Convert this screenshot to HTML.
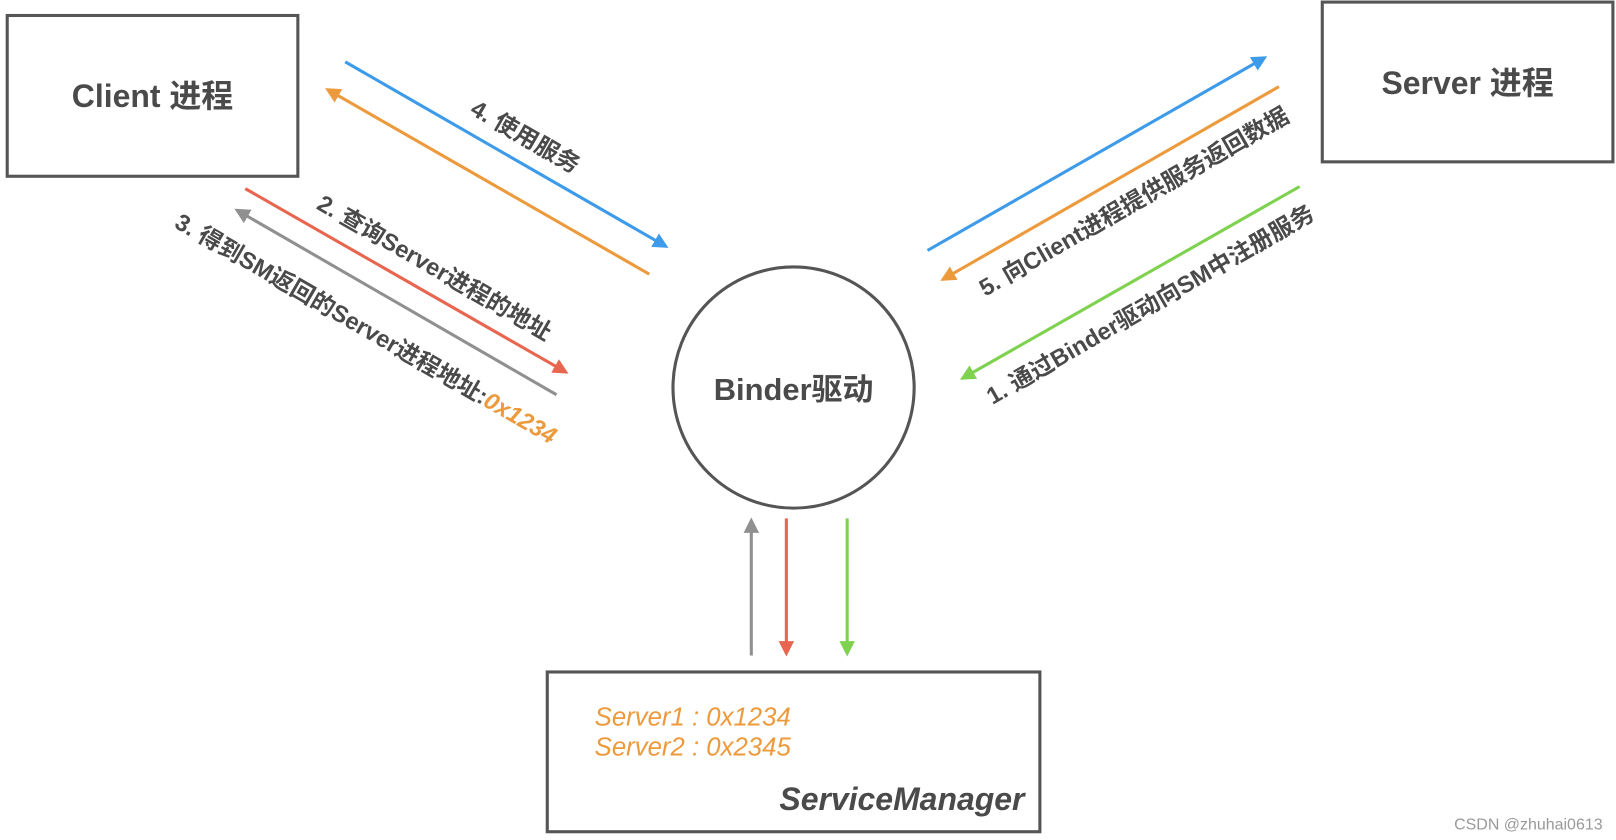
<!DOCTYPE html>
<html><head><meta charset="utf-8"><style>
html,body{margin:0;padding:0;background:#fff;width:1616px;height:840px;overflow:hidden}
text{font-family:"Liberation Sans","Noto Sans CJK SC",sans-serif;font-weight:bold;fill:#4a4a4a}
</style></head><body>
<svg width="1616" height="840" viewBox="0 0 1568 815" xmlns="http://www.w3.org/2000/svg">
<defs>
<marker id="b" viewBox="0 0 10 10" refX="8" refY="5" markerWidth="5" markerHeight="5" orient="auto"><path d="M0,0L10,5L0,10z" fill="#3d9be9"/></marker>
<marker id="o" viewBox="0 0 10 10" refX="8" refY="5" markerWidth="5" markerHeight="5" orient="auto"><path d="M0,0L10,5L0,10z" fill="#ec9a3c"/></marker>
<marker id="r" viewBox="0 0 10 10" refX="8" refY="5" markerWidth="5" markerHeight="5" orient="auto"><path d="M0,0L10,5L0,10z" fill="#e8654f"/></marker>
<marker id="g" viewBox="0 0 10 10" refX="8" refY="5" markerWidth="5" markerHeight="5" orient="auto"><path d="M0,0L10,5L0,10z" fill="#909090"/></marker>
<marker id="n" viewBox="0 0 10 10" refX="8" refY="5" markerWidth="5" markerHeight="5" orient="auto"><path d="M0,0L10,5L0,10z" fill="#7ed24f"/></marker>
</defs>
<g fill="none" stroke="#555" stroke-width="3">
<rect x="7" y="15" width="282" height="156"/>
<rect x="1283" y="2" width="282" height="155"/>
<circle cx="770" cy="376" r="117"/>
<rect x="531" y="652" width="478" height="155"/>
</g>
<g stroke-width="3" fill="none">
<line x1="335" y1="60" x2="646" y2="239" stroke="#3d9be9" marker-end="url(#b)"/>
<line x1="630" y1="266" x2="318" y2="87" stroke="#ec9a3c" marker-end="url(#o)"/>
<line x1="238" y1="183" x2="549" y2="361" stroke="#e8654f" marker-end="url(#r)"/>
<line x1="540" y1="383" x2="230" y2="204" stroke="#909090" marker-end="url(#g)"/>
<line x1="900" y1="243" x2="1227" y2="56" stroke="#3d9be9" marker-end="url(#b)"/>
<line x1="1241" y1="84" x2="915" y2="271" stroke="#ec9a3c" marker-end="url(#o)"/>
<line x1="1261" y1="181" x2="934" y2="367" stroke="#7ed24f" marker-end="url(#n)"/>
<line x1="729" y1="636" x2="729" y2="505" stroke="#909090" marker-end="url(#g)"/>
<line x1="763" y1="503" x2="763" y2="634" stroke="#e8654f" marker-end="url(#r)"/>
<line x1="822" y1="503" x2="822" y2="634" stroke="#7ed24f" marker-end="url(#n)"/>
</g>
<text x="148" y="104" font-size="31" text-anchor="middle">Client 进程</text>
<text x="1424" y="91" font-size="31" text-anchor="middle">Server 进程</text>
<text x="770" y="388" font-size="30" text-anchor="middle">Binder驱动</text>
<text x="0" y="0" font-size="23" transform="translate(455,110) rotate(30)">4. 使用服务</text>
<text x="0" y="0" font-size="23" transform="translate(306,202) rotate(30)">2. 查询Server进程的地址</text>
<text x="0" y="0" font-size="23" transform="translate(168,220) rotate(30)">3. 得到SM返回的Server进程地址:<tspan style="fill:#ec9a3c;font-style:italic">0x1234</tspan></text>
<text x="0" y="0" font-size="23" transform="translate(956,288) rotate(-30)">5. 向Client进程提供服务返回数据</text>
<text x="0" y="0" font-size="23" transform="translate(963,393) rotate(-30)">1. 通过Binder驱动向SM中注册服务</text>
<text x="577" y="704" font-size="25" style="fill:#ec9a3c;font-weight:normal;font-style:italic">Server1 : 0x1234</text>
<text x="577" y="733" font-size="25" style="fill:#ec9a3c;font-weight:normal;font-style:italic">Server2 : 0x2345</text>
<text x="994" y="786" font-size="31" text-anchor="end" style="font-style:italic">ServiceManager</text>
<text x="1555" y="805" font-size="15.5" text-anchor="end" style="fill:#999;font-weight:normal">CSDN @zhuhai0613</text>
</svg>
</body></html>
